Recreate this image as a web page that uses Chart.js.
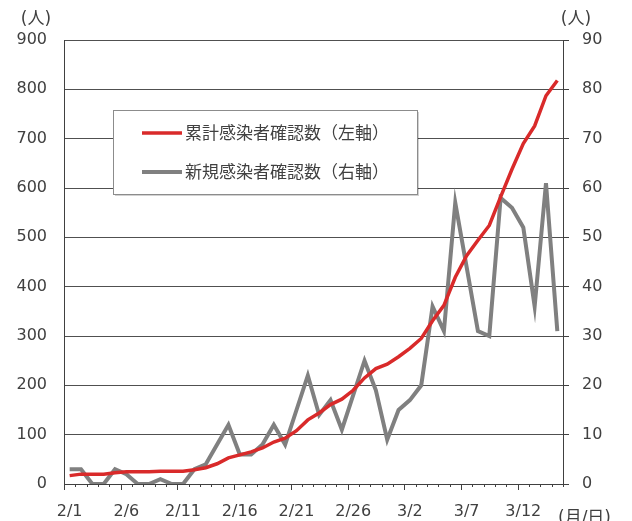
<!DOCTYPE html>
<html>
<head>
<meta charset="utf-8">
<script src="https://cdn.jsdelivr.net/npm/chart.js@4.4.0/dist/chart.umd.min.js"></script>
<style>
  html, body { margin: 0; padding: 0; background: #fff; }
</style>
</head>
<body>
<canvas id="myChart" width="632" height="521"></canvas>
<script>
// 日付（2/1〜3/15）
var dates = ['2/1','2/2','2/3','2/4','2/5','2/6','2/7','2/8','2/9','2/10',
             '2/11','2/12','2/13','2/14','2/15','2/16','2/17','2/18','2/19','2/20',
             '2/21','2/22','2/23','2/24','2/25','2/26','2/27','2/28','2/29','3/1',
             '3/2','3/3','3/4','3/5','3/6','3/7','3/8','3/9','3/10','3/11',
             '3/12','3/13','3/14','3/15'];

// 累計感染者確認数（左軸）
var totalCases = [17, 20, 20, 20, 23, 25, 25, 25, 26, 26,
                  26, 29, 33, 41, 53, 59, 65, 73, 85, 93,
                  108, 130, 144, 161, 172, 190, 215, 234, 243, 258,
                  275, 295, 331, 362, 419, 463, 494, 524, 582, 638,
                  690, 726, 787, 818];

// 新規感染者確認数（右軸）
var newCases = [3, 3, 0, 0, 3, 2, 0, 0, 1, 0,
                0, 3, 4, 8, 12, 6, 6, 8, 12, 8,
                15, 22, 14, 17, 11, 18, 25, 19, 9, 15,
                17, 20, 36, 31, 57, 44, 31, 30, 58, 56,
                52, 36, 61, 31];

var labelTotal = '累計感染者確認数（左軸）';
var labelNew   = '新規感染者確認数（右軸）';

var RED  = '#d92a2a';
var GRAY = '#808080';
var AXIS = '#404040';
var TEXT = '#404040';

Chart.defaults.font.family = "'DejaVu Sans', 'Noto Sans CJK JP', sans-serif";
Chart.defaults.font.size = 16;
Chart.defaults.color = TEXT;

// 目盛り線（5日ごとに長く）と単位・凡例を描く
var extras = {
    id: 'extras',
    afterDraw: function (chart) {
        var ctx = chart.ctx;
        var x = chart.scales.x;
        var area = chart.chartArea;
        var half = (x.getPixelForValue(1) - x.getPixelForValue(0)) / 2;

        ctx.save();
        ctx.strokeStyle = AXIS;
        ctx.lineWidth = 1;
        for (var i = 0; i <= dates.length; i++) {
            var px = Math.round(x.getPixelForValue(i) - half) + 0.5;
            var len = (i % 5 == 0) ? 6 : 3;
            ctx.beginPath();
            ctx.moveTo(px, area.bottom);
            ctx.lineTo(px, area.bottom + len);
            ctx.stroke();
        }

        // 単位
        ctx.fillStyle = TEXT;
        ctx.font = "17px 'DejaVu Sans', 'Noto Sans CJK JP', sans-serif";
        ctx.textBaseline = 'middle';
        ctx.textAlign = 'center';
        ctx.fillText('(人)', 36, 20);
        ctx.fillText('(人)', 576, 20);
        ctx.textAlign = 'left';
        ctx.fillText('(月/日)', 558, 519);

        // 凡例
        var bx = 113, by = 110, bw = 304, bh = 84;
        ctx.fillStyle = 'rgba(0,0,0,0.18)';
        ctx.fillRect(bx + 2, by + 2, bw, bh);
        ctx.fillStyle = '#fff';
        ctx.fillRect(bx, by, bw, bh);
        ctx.strokeStyle = '#8c8c8c';
        ctx.strokeRect(bx + 0.5, by + 0.5, bw, bh);

        var rows = [[labelTotal, RED, 3.5, 133], [labelNew, GRAY, 4, 172]];
        ctx.font = "17px 'Noto Sans CJK JP', sans-serif";
        for (var r = 0; r < rows.length; r++) {
            ctx.strokeStyle = rows[r][1];
            ctx.lineWidth = rows[r][2];
            ctx.beginPath();
            ctx.moveTo(142, rows[r][3]);
            ctx.lineTo(182, rows[r][3]);
            ctx.stroke();
            ctx.fillStyle = TEXT;
            ctx.fillText(rows[r][0], 185, rows[r][3]);
        }
        ctx.restore();
    }
};

var ctx = document.getElementById('myChart').getContext('2d');
var chart = new Chart(ctx, {
    type: 'line',
    data: {
        labels: dates,
        datasets: [{
            label: labelTotal,
            data: totalCases,
            yAxisID: 'y',
            borderColor: RED,
            borderWidth: 3.5,
            pointRadius: 0,
            tension: 0,
            fill: false,
            order: 1
        }, {
            label: labelNew,
            data: newCases,
            yAxisID: 'y1',
            borderColor: GRAY,
            borderWidth: 4,
            pointRadius: 0,
            tension: 0,
            fill: false,
            order: 2
        }]
    },
    options: {
        responsive: false,
        animation: false,
        devicePixelRatio: 1,
        layout: { padding: { top: 40, left: 0, right: 0, bottom: 0 } },
        plugins: {
            legend: { display: false },
            tooltip: { enabled: false }
        },
        scales: {
            x: {
                offset: true,
                grid: { display: true, drawOnChartArea: false, tickLength: 6, tickColor: 'transparent', offset: true },
                border: { display: true, color: AXIS },
                ticks: {
                    autoSkip: false,
                    maxRotation: 0,
                    padding: 12,
                    callback: function (v, i) { return i % 5 == 0 ? dates[i] : ''; }
                },
                afterFit: function (s) { s.height = 37; }
            },
            y: {
                position: 'left',
                min: 0, max: 900,
                grid: { color: '#505050', drawTicks: false },
                border: { display: true, color: AXIS },
                ticks: { stepSize: 100, padding: 17 },
                afterFit: function (s) { s.width = 64; }
            },
            y1: {
                position: 'right',
                min: 0, max: 90,
                grid: { drawOnChartArea: false, tickLength: 6, tickColor: AXIS },
                border: { display: true, color: AXIS },
                ticks: { stepSize: 10, padding: 13 },
                afterFit: function (s) { s.width = 69; }
            }
        }
    },
    plugins: [extras]
});
</script>
</body>
</html>
